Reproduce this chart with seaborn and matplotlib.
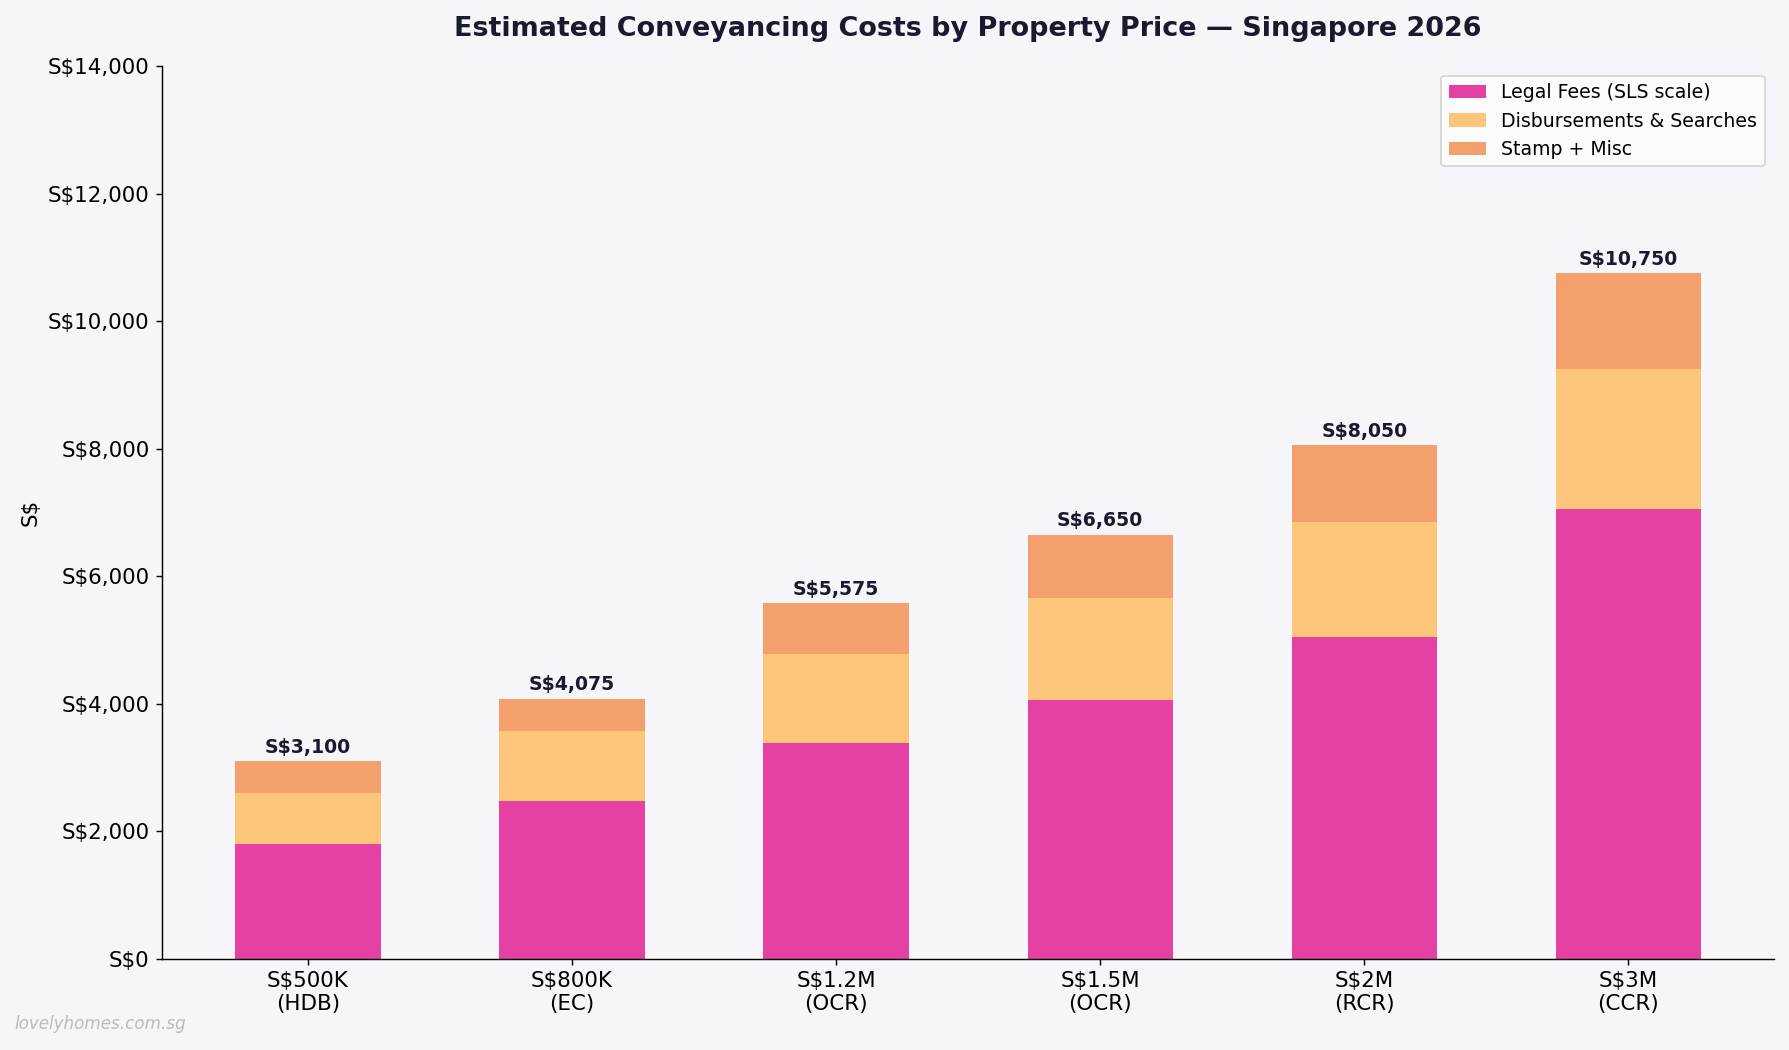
import pandas as pd
import seaborn as sns
import matplotlib.pyplot as plt
from matplotlib.ticker import FuncFormatter

# Data
prices = ["S$500K\n(HDB)", "S$800K\n(EC)", "S$1.2M\n(OCR)", "S$1.5M\n(OCR)", "S$2M\n(RCR)", "S$3M\n(CCR)"]
legal_fees = [1800, 2475, 3375, 4050, 5050, 7050]
disbursements = [800, 1100, 1400, 1600, 1800, 2200]
stamp_misc = [500, 500, 800, 1000, 1200, 1500]

bg = "#f6f5fa"
navy = "#1a1a2e"
colors = ["#e541a3", "#fdc57a", "#f4a06c"]

df = pd.DataFrame({
    "price": prices,
    "legal": legal_fees,
    "disb": disbursements,
    "stamp": stamp_misc,
})
df["base2"] = df["legal"]
df["base3"] = df["legal"] + df["disb"]
df["total"] = df["base3"] + df["stamp"]

sns.set_style("ticks", {"axes.edgecolor": "black", "text.color": "black",
                        "xtick.color": "black", "ytick.color": "black",
                        "axes.labelcolor": "black"})
plt.rcParams["font.family"] = ["DejaVu Sans"]

fig, ax = plt.subplots(figsize=(1789 / 128, 1050 / 128), dpi=128)
fig.patch.set_facecolor(bg)
ax.set_facecolor(bg)

sns.barplot(data=df, x="price", y="legal", color=colors[0], width=0.55, linewidth=0,
            saturation=1, label="Legal Fees (SLS scale)", ax=ax)
sns.barplot(data=df, x="price", y="disb", bottom=df["base2"], color=colors[1], width=0.55,
            linewidth=0, saturation=1, label="Disbursements & Searches", ax=ax)
sns.barplot(data=df, x="price", y="stamp", bottom=df["base3"], color=colors[2], width=0.55,
            linewidth=0, saturation=1, label="Stamp + Misc", ax=ax)

# total labels
for i, t in enumerate(df["total"]):
    ax.annotate(f"S${t:,.0f}", (i, t), xytext=(0, 2.5), textcoords="offset points",
                ha="center", va="bottom", fontsize=10.6, fontweight="bold", color=navy)

ax.set_xlim(-0.5525, len(prices) - 1 + 0.5525)
ax.set_ylim(0, 14000)
ax.yaxis.set_major_formatter(FuncFormatter(lambda v, p: f"S${v:,.0f}"))
ax.set_xlabel("")
ax.set_ylabel("S$", fontsize=12)
ax.tick_params(labelsize=12)
ax.set_title("Estimated Conveyancing Costs by Property Price \u2014 Singapore 2026",
             fontsize=15.2, fontweight="bold", color=navy, pad=17)
sns.despine(ax=ax)

leg = ax.legend(loc="upper right", fontsize=10.6, frameon=True)
leg.get_frame().set_facecolor("white")

fig.text(0.008, 0.02, "lovelyhomes.com.sg", fontsize=9.4, style="italic", color="#bbbbbb")

fig.subplots_adjust(left=0.0906, right=0.9917, top=0.937, bottom=0.087)
plt.savefig("out.png", dpi=128, facecolor=bg)
plt.close()
